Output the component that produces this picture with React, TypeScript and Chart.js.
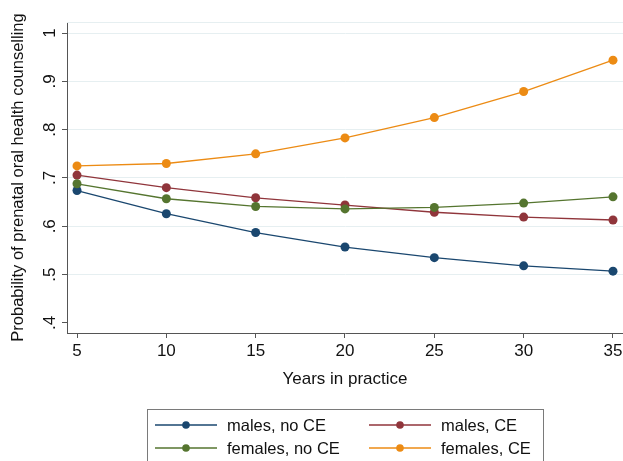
import React, { useEffect, useRef } from 'react';
import { Chart, registerables } from 'chart.js';

Chart.register(...registerables);

// ---- data ----
const years = [5, 10, 15, 20, 25, 30, 35];
const malesNoCE = [0.674, 0.626, 0.587, 0.557, 0.535, 0.518, 0.507];
const malesCE = [0.706, 0.680, 0.659, 0.644, 0.629, 0.619, 0.613];
const femalesNoCE = [0.688, 0.657, 0.641, 0.636, 0.639, 0.648, 0.661];
const femalesCE = [0.725, 0.730, 0.750, 0.783, 0.825, 0.879, 0.944];

const seriesLabels = ['males, no CE', 'males, CE', 'females, no CE', 'females, CE'];
const seriesValues = [malesNoCE, malesCE, femalesNoCE, femalesCE];
const seriesColors = ['#1a476f', '#90353b', '#55752f', '#ec8b14'];

const xTickValues = [5, 10, 15, 20, 25, 30, 35];
const xTickLabels = ['5', '10', '15', '20', '25', '30', '35'];
const yTickValues = [0.4, 0.5, 0.6, 0.7, 0.8, 0.9, 1];
const yTickLabels = ['.4', '.5', '.6', '.7', '.8', '.9', '1'];

const xTitle = 'Years in practice';
const yTitle = 'Probability of prenatal oral health counselling';

const FONT = "'Liberation Sans', Arial, Helvetica, sans-serif";
const TEXT = '#111111';
const AXIS = '#555555';
const GRID = '#e6eff1';

const zeroPad = (s: any) => {
  s.paddingLeft = 0;
  s.paddingRight = 0;
  s.paddingTop = 0;
  s.paddingBottom = 0;
};

const frameAndLegend = {
  id: 'frameAndLegend',
  beforeDatasetsDraw(chart: any) {
    const { ctx, chartArea } = chart;
    ctx.save();
    ctx.strokeStyle = GRID;
    ctx.lineWidth = 1;
    ctx.beginPath();
    ctx.moveTo(chartArea.left, chartArea.top + 0.5);
    ctx.lineTo(chartArea.right, chartArea.top + 0.5);
    ctx.stroke();
    ctx.restore();
  },
  afterDraw(chart: any) {
    const ctx = chart.ctx;
    ctx.save();
    ctx.strokeStyle = '#7a7a7a';
    ctx.lineWidth = 1;
    ctx.strokeRect(147.5, 409.5, 396, 70);
    ctx.font = `16.5px ${FONT}`;
    ctx.textBaseline = 'middle';
    ctx.textAlign = 'left';
    chart.data.datasets.forEach((ds: any, i: number) => {
      const col = i % 2;
      const row = Math.floor(i / 2);
      const x0 = col ? 369 : 155;
      const x1 = x0 + 62;
      const y = row ? 448 : 425;
      ctx.strokeStyle = ds.borderColor;
      ctx.lineWidth = 1.3;
      ctx.beginPath();
      ctx.moveTo(x0, y);
      ctx.lineTo(x1, y);
      ctx.stroke();
      ctx.fillStyle = ds.borderColor;
      ctx.beginPath();
      ctx.arc((x0 + x1) / 2, y, 3.8, 0, Math.PI * 2);
      ctx.fill();
      ctx.fillStyle = TEXT;
      ctx.fillText(ds.label, x1 + 10, y + 1);
    });
    ctx.restore();
  },
};

export default function App() {
  const ref = useRef<HTMLCanvasElement | null>(null);

  useEffect(() => {
    if (!ref.current) return;
    Chart.defaults.font.family = FONT;
    const chart = new Chart(ref.current, {
      type: 'line',
      data: {
        datasets: seriesLabels.map((label, i) => ({
          label,
          data: years.map((x, j) => ({ x, y: seriesValues[i][j] })),
          borderColor: seriesColors[i],
          backgroundColor: seriesColors[i],
          pointBackgroundColor: seriesColors[i],
          pointBorderColor: seriesColors[i],
          pointBorderWidth: 0,
          pointRadius: 4.5,
          borderWidth: 1.3,
          tension: 0,
          clip: false,
          order: seriesLabels.length - i,
        })),
      },
      options: {
        responsive: false,
        animation: false,
        devicePixelRatio: 1,
        layout: { autoPadding: false, padding: { top: 22, right: 0, bottom: 61, left: 0 } },
        plugins: { legend: { display: false }, tooltip: { enabled: false } },
        scales: {
          x: {
            type: 'linear',
            min: 4.44,
            max: 35.56,
            afterBuildTicks: (axis: any) => {
              axis.ticks = xTickValues.map((v) => ({ value: v }));
            },
            afterFit: (s: any) => {
              s.height = 67;
              zeroPad(s);
            },
            ticks: {
              callback: (v: any) => xTickLabels[xTickValues.indexOf(Number(v))],
              font: { size: 17, family: FONT },
              color: TEXT,
              padding: 3,
              autoSkip: false,
              maxRotation: 0,
              minRotation: 0,
            },
            grid: { drawOnChartArea: false, drawTicks: true, tickLength: 5, tickColor: AXIS, color: AXIS },
            border: { display: true, color: AXIS, width: 1 },
            title: {
              display: true,
              text: xTitle,
              color: TEXT,
              font: { size: 17, family: FONT },
              padding: { top: 0, bottom: 10 },
            },
          },
          y: {
            type: 'linear',
            min: 0.379,
            max: 1.023,
            afterBuildTicks: (axis: any) => {
              axis.ticks = yTickValues.map((v) => ({ value: v }));
            },
            afterFit: (s: any) => {
              s.width = 67;
              zeroPad(s);
            },
            ticks: {
              callback: (v: any) => yTickLabels[yTickValues.indexOf(Number(v))],
              font: { size: 17, family: FONT },
              color: TEXT,
              padding: 5,
              minRotation: 90,
              maxRotation: 90,
              crossAlign: 'center',
              autoSkip: false,
            },
            grid: {
              color: (c: any) => (c.tick && c.tick.value === 0.4 ? 'rgba(0,0,0,0)' : GRID),
              tickColor: AXIS,
              tickLength: 5,
              drawTicks: true,
              lineWidth: 1,
            },
            border: { display: true, color: AXIS, width: 1 },
            title: {
              display: true,
              text: yTitle,
              color: TEXT,
              font: { size: 16.5, family: FONT },
              padding: { top: 9, bottom: 0 },
            },
          },
        },
      },
      plugins: [frameAndLegend],
    } as any);
    return () => chart.destroy();
  }, []);

  return (
    <div style={{ position: 'absolute', left: 0, top: 0, width: 623, height: 461, background: '#fff' }}>
      <canvas ref={ref} width={623} height={461} style={{ display: 'block', width: 623, height: 461 }} />
    </div>
  );
}
